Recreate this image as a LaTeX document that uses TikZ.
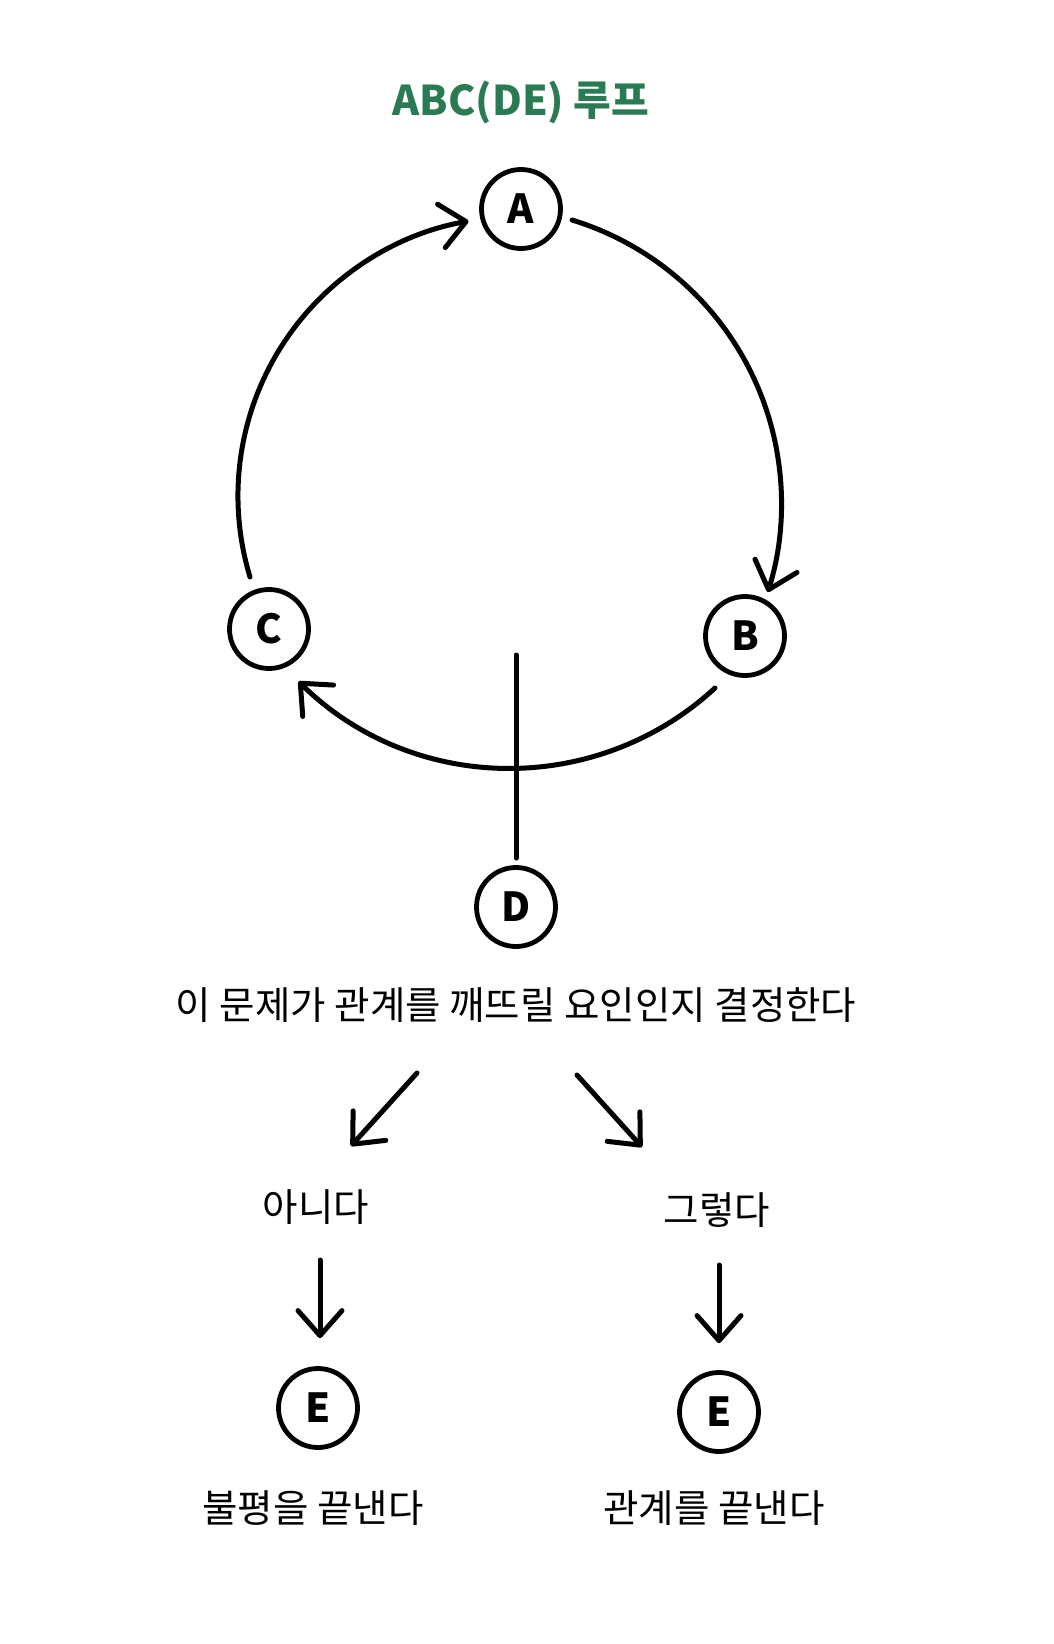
\documentclass[tikz,border=0pt]{standalone}
\usepackage{fontspec}
\newfontfamily\kr{Noto Sans CJK KR}
\usetikzlibrary{arrows.meta,calc}
\definecolor{titlegreen}{RGB}{42,122,84}
\begin{document}
\begin{tikzpicture}[x=1pt,y=-1pt,
  line width=5pt, line cap=round, line join=round,
  circ/.style={circle,draw,line width=4.8pt,minimum size=79pt,inner sep=0pt,font=\kr\bfseries\fontsize{40}{40}\selectfont},
  lbl/.style={inner sep=0pt,font=\kr\fontsize{38.5}{39}\selectfont},
  arr/.style={-{Straight Barb[length=25pt,width=44pt,round]}}]
\fill[white] (0,0) rectangle (1053,1644);
\useasboundingbox (0,0) rectangle (1053,1644);

\node[font=\kr\bfseries\fontsize{41}{41}\selectfont,text=titlegreen,inner sep=0pt] (title) at (521,102) {ABC(DE) 루프};

\node[circ] (A) at (521,209) {A};
\node[circ] (B) at (745,636) {B};
\node[circ] (C) at (269,629) {C};
\node[circ] (D) at (516,907) {D};

% loop arcs (clockwise on the page; y axis points down, so angles are negated)
\draw[arr] ($(A)+(51,11)$) arc[start angle=-73,end angle=17.5,radius=296];
\draw[arr] ($(B)+(-30,52)$) arc[start angle=47.3,end angle=134.5,radius=302];
\draw[arr] ($(C)+(-19,-52)$) arc[start angle=-196.9,end angle=-100,radius=279];

\coordinate (Dtop) at (516,655);
\draw[shorten <=7pt] (D) -- (Dtop);

\node[lbl] (q) at (516,1005) {이 문제가 관계를 깨뜨릴 요인인지 결정한다};
\node[lbl] (no) at (316,1207) {아니다};
\node[lbl] (yes) at (717,1210) {그렇다};

\draw[arr] ($(q)+(-99,68)$) -- ($(no)+(35,-61)$);
\draw[arr] ($(q)+(61,70)$) -- ($(yes)+(-75,-63)$);

\node[circ] (E1) at (318,1408) {E};
\node[circ] (E2) at (719,1412) {E};

\draw[arr] ($(no)+(4,53)$) -- ($(E1.north)+(2,-28)$);
\draw[arr] ($(yes)+(2,55)$) -- ($(E2.north)+(0,-27)$);

\node[lbl] (r1) at (313,1508) {불평을 끝낸다};
\node[lbl] (r2) at (714,1508) {관계를 끝낸다};
\end{tikzpicture}
\end{document}
